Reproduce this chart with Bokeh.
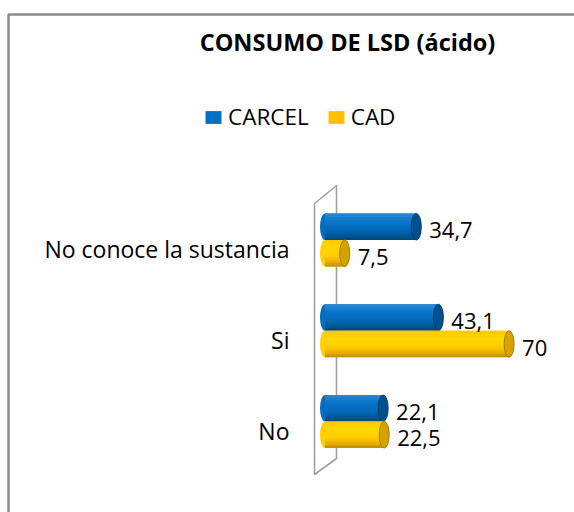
from bokeh.plotting import figure
from bokeh.models import Range1d, Label, LegendItem, Legend
from bokeh.core.properties import value
from bokeh.embed import file_html
from bokeh.resources import INLINE

# ---- data ----
categories = ["No", "Si", "No conoce la sustancia"]
carcel = [22.1, 43.1, 34.7]
cad = [22.5, 70, 7.5]
series_names = ["CARCEL", "CAD"]
title_text = "CONSUMO DE LSD (ácido)"

# ---- geometry (canvas pixels) ----
W, H = 574, 512
X0 = 324.5      # canvas px of value 0
SX = 2.63       # px per unit of value
Y0 = 421.0      # canvas px (from top) of category index 0
SY = 90.75      # px per category
BAR_PX = 26.5

x_range = Range1d(-X0 / SX, (W - X0) / SX)
y_range = Range1d(-(H - Y0) / SY, Y0 / SY)


def dx(px):
    return (px - X0) / SX


def dy(py):
    return (Y0 - py) / SY


p = figure(width=W, height=H, x_range=x_range, y_range=y_range,
           output_backend="svg", toolbar_location=None, min_border=0,
           background_fill_color="white", border_fill_color="white")
p.axis.visible = False
p.grid.visible = False
p.outline_line_color = None

FONT = "Open Sans"

# chart border (top and left)
p.line(x=[dx(8), dx(8), dx(620)], y=[dy(620), dy(14), dy(14)],
       line_color="#8a8a8a", line_width=2.5)

# back wall of the 3D plot area
wall_x = [dx(314), dx(336), dx(336), dx(314), dx(314)]
wall_y = [dy(203), dy(185), dy(458), dy(474), dy(203)]
p.line(x=wall_x, y=wall_y, line_color="#a0a0a0", line_width=1.6)

bh = BAR_PX / SY
idx = list(range(len(categories)))


def interp(stops, t):
    for (t0, c0), (t1, c1) in zip(stops, stops[1:]):
        if t0 <= t <= t1:
            f = (t - t0) / (t1 - t0) if t1 > t0 else 0
            a = [int(c0[i:i + 2], 16) for i in (1, 3, 5)]
            b = [int(c1[i:i + 2], 16) for i in (1, 3, 5)]
            return "#%02x%02x%02x" % tuple(round(a[k] + (b[k] - a[k]) * f) for k in range(3))
    return stops[-1][1]


styles = {
    "CARCEL": dict(base="#0070C0", cap="#00508e", capline="#003f70",
                   stops=[(0, "#2b88d6"), (0.3, "#0a76cb"), (0.62, "#0068b8"),
                          (0.85, "#00548f"), (1, "#00457a")]),
    "CAD": dict(base="#FFC000", cap="#d6a200", capline="#a67c00",
                stops=[(0, "#ffc800"), (0.3, "#ffd800"), (0.62, "#ffcc00"),
                       (0.85, "#e2aa00"), (1, "#b98a00")]),
}

NSTRIP = 14
legend_items = []
for name, vals, off in [("CARCEL", carcel, +bh / 2), ("CAD", cad, -bh / 2)]:
    st = styles[name]
    ys = [i + off for i in idx]
    zeros = [0] * len(vals)
    # base bar (also used for the legend swatch)
    base = p.hbar(y=ys, left=0, right=vals, height=bh, fill_color=st["base"], line_color=None)
    legend_items.append(LegendItem(label=name, renderers=[base]))
    # rounded left end
    p.ellipse(x=zeros, y=ys, width=10, height=BAR_PX, width_units="screen",
              height_units="screen", fill_color=interp(st["stops"], 0.5), line_color=None)
    # cylindrical shading strips
    for k in range(NSTRIP):
        t = (k + 0.5) / NSTRIP
        yk = [y + bh / 2 - (k + 0.5) * bh / NSTRIP for y in ys]
        p.hbar(y=yk, left=0, right=vals, height=bh / NSTRIP * 1.05,
               fill_color=interp(st["stops"], t), line_color=None)
    # end cap
    p.ellipse(x=vals, y=ys, width=10, height=BAR_PX, width_units="screen",
              height_units="screen", fill_color=st["cap"], line_color=st["capline"],
              line_width=1)

# value labels
for vals, off in [(carcel, +bh / 2), (cad, -bh / 2)]:
    p.text(x=vals, y=[i + off for i in idx],
           text=[("%g" % v).replace(".", ",") for v in vals],
           x_offset=13, y_offset=3.5, text_baseline="alphabetic", text_align="left",
           text_font=value(FONT), text_font_size=value("22px"), text_color="#000000")

# category labels
p.text(x=[dx(289)] * len(categories), y=idx, text=categories,
       x_offset=0, y_offset=9, text_baseline="alphabetic", text_align="right",
       text_font=value(FONT), text_font_size=value("23px"), text_color="#000000")

# title
p.add_layout(Label(x=dx(347), y=dy(41), text=title_text, text_align="center",
                   text_baseline="alphabetic", text_font=FONT, text_font_style="bold",
                   text_font_size="23.5px", text_color="#000000"))

# legend
legend = Legend(items=legend_items, orientation="horizontal", location=(203, 380),
                glyph_width=20, glyph_height=16, label_standoff=5, spacing=17,
                padding=0, margin=0, border_line_color=None, background_fill_alpha=0,
                label_text_font=FONT, label_text_font_size="22.5px", label_text_color="#000000")
p.add_layout(legend)

open("out.html", "w").write(file_html(p, INLINE))
